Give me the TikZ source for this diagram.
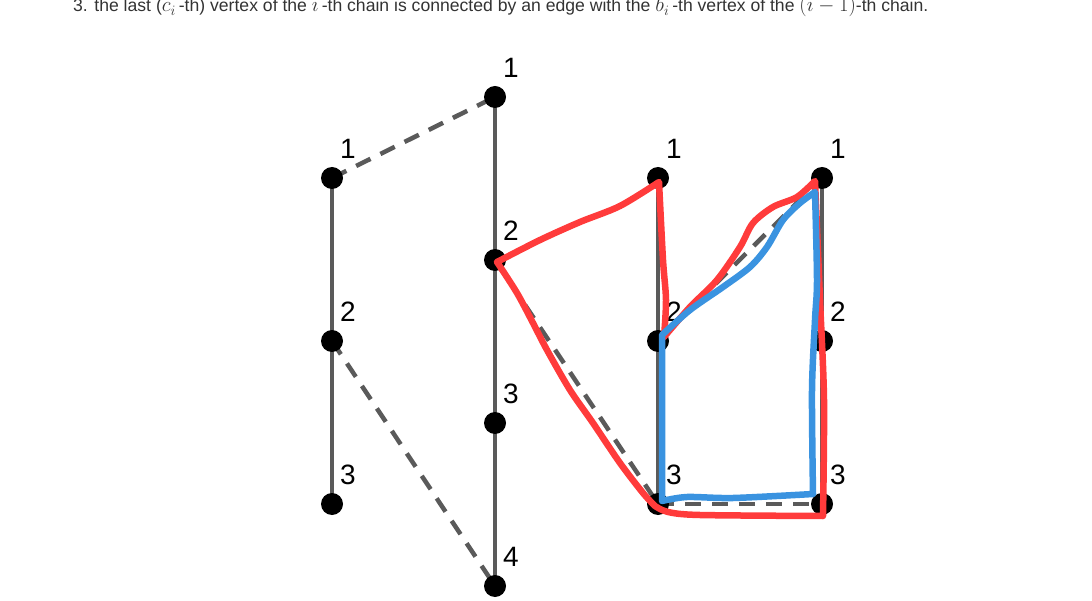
\documentclass[tikz,border=0pt]{standalone}
\usepackage{amsmath}
\usepackage{fontspec}
\setmainfont{Liberation Sans}

\definecolor{edgegray}{HTML}{5A5A5A}
\definecolor{penred}{HTML}{FF3B3B}
\definecolor{penblue}{HTML}{3A93E0}
\definecolor{headgray}{HTML}{333333}
\newcommand{\bigmath}[1]{{\fontsize{21}{21}\selectfont$#1$}}

\begin{document}
\begin{tikzpicture}[x=1pt, y=-1pt,
    chain/.style={edgegray, line width=4pt},
    link/.style={edgegray, line width=4.5pt, dash pattern=on 16pt off 11pt},
    num/.style={font=\fontsize{28}{30}\selectfont, inner sep=0pt},
    redpen/.style={penred, line width=6.5pt, line cap=round, line join=round},
    bluepen/.style={penblue, line width=6.5pt, line cap=round, line join=round}]
  \useasboundingbox (0,0) rectangle (1092,601);
  % the rule, cut off at the top edge
  \node[anchor=base west, inner sep=0pt, text=headgray,
        font=\fontsize{17.6}{19}\selectfont] (head) at (73,12)
    {3. the last (\bigmath{c_i}\,-th) vertex of the \bigmath{i}\,-th chain is connected by an edge with the \bigmath{b_i}\,-th vertex of the \bigmath{(i-1)}-th chain.};
  % the four chains
  \coordinate (a1) at (332,178);
  \coordinate (a2) at (332,341);
  \coordinate (a3) at (332,504);
  \coordinate (b1) at (495,97);
  \coordinate (b2) at (495,260);
  \coordinate (b3) at (495,423);
  \coordinate (b4) at (495,586);
  \coordinate (c1) at (658,178);
  \coordinate (c2) at (658,341);
  \coordinate (c3) at (658,504);
  \coordinate (d1) at (822,178);
  \coordinate (d2) at (822,341);
  \coordinate (d3) at (822,504);
  \draw[chain] (a1) -- (a3);
  \draw[chain] (b1) -- (b4);
  \draw[chain] (c1) -- (c3);
  \draw[chain] (d1) -- (d3);
  % edges between neighbouring chains
  \draw[link] (a1) -- (b1);
  \draw[link] (a2) -- (b4);
  \draw[link] (b2) -- (c3);
  \draw[link] (c2) -- (d1);
  \draw[link] (c3) -- (d3);
  \foreach \ch in {a,c,d}
    \foreach \v in {1,2,3}
      \fill (\ch\v) circle (11pt) ++(16,-29) node[num] {\v};
  \foreach \v in {1,2,3,4}
    \fill (b\v) circle (11pt) ++(16,-29) node[num] {\v};
  % hand-drawn cycles
  \draw[redpen] plot[smooth, tension=0.5] coordinates {(497,262) (540,240) (580,222) (620,206) (659,182)}
    -- plot[smooth, tension=0.5] coordinates {(659,182) (663,260) (666,300) (664,337)}
    -- plot[smooth, tension=0.5] coordinates {(664,337) (690,307) (717,280) (740,247) (753,223) (773,207) (797,197) (815,181)}
    -- plot[smooth, tension=0.5] coordinates {(815,181) (820,300) (824,400) (823,516)}
    -- plot[smooth, tension=0.5] coordinates {(823,516) (700,515) (668,512) (655,506)}
    -- plot[smooth, tension=0.5] coordinates {(655,506) (643,493) (620,463) (593,423) (570,390) (547,350) (533,323) (517,293) (497,262)};
  \draw[bluepen] plot[smooth, tension=0.5] coordinates {(662,335) (690,310) (723,287) (750,267) (767,247) (783,220) (800,203) (815,192)}
    -- plot[smooth, tension=0.5] coordinates {(815,192) (817,280) (815,320) (812,390) (813,494)}
    -- plot[smooth, tension=0.5] coordinates {(813,494) (733,498) (687,497) (662,501)}
    -- cycle;
\end{tikzpicture}
\end{document}
